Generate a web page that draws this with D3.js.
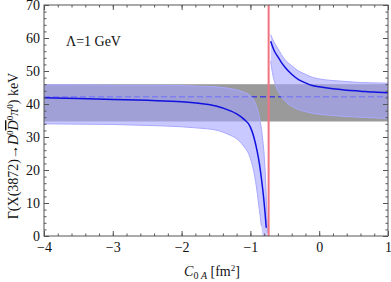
<!DOCTYPE html>
<html>
<head>
<meta charset="utf-8">
<script src="https://d3js.org/d3.v7.min.js"></script>
<style>
  body { margin: 0; background: #fff; }
  svg text { font-family: "Liberation Serif", "DejaVu Serif", serif; fill: #111; }
  .axis path { stroke: none; }
  .axis line { stroke: #555; }
</style>
</head>
<body>
<svg width="391" height="282"></svg>
<script>

// left branch (below the pole)
var leftC      = [-4, -3.5, -3, -2.5, -2, -1.75, -1.5, -1.3, -1.2, -1.1, -1.0, -0.95, -0.9, -0.87, -0.84, -0.82, -0.8, -0.785, -0.77, -0.76, -0.752];
var leftMid    = [41.9, 41.7, 41.4, 41.1, 40.7, 40.2, 39.4, 38.0, 37.0, 35.5, 33.0, 30.0, 25.5, 22.0, 17.5, 14.0, 10.0, 6.5, 2.5, null, null];
var leftUpper  = [45.8, 45.8, 45.7, 45.7, 45.6, 45.4, 45.2, 44.7, 44.3, 43.6, 42.5, 41.2, 38.5, 36.0, 32.5, 29.0, 24.5, 19.5, 12.0, 6.0, 1.0];
var leftLower  = [34.0, 33.9, 33.8, 33.5, 33.1, 32.7, 32.1, 30.6, 29.5, 27.3, 23.5, 19.5, 13.0, 8.0, 3.0, 0, 0, 0, 0, 0, 0];

// right branch (above the pole)
var rightC     = [-0.705, -0.68, -0.65, -0.6, -0.55, -0.5, -0.4, -0.3, -0.2, -0.1, 0, 0.2, 0.4, 0.6, 0.8, 1.0];
var rightMid   = [59.0, 57.5, 56.0, 54.3, 52.6, 51.2, 49.0, 47.4, 46.4, 45.6, 45.2, 44.6, 44.2, 43.9, 43.6, 43.4];
var rightUpper = [61.0, 59.8, 58.5, 56.8, 55.0, 53.5, 51.6, 50.0, 49.0, 48.1, 47.6, 47.1, 46.8, 46.5, 46.4, 46.3];
var rightLower = [53.0, 49.5, 46.8, 44.0, 42.3, 41.0, 39.3, 38.3, 37.7, 37.2, 36.9, 36.5, 36.2, 36.0, 35.8, 35.6];

var expBand = [34.7, 46.0];   // experimental width range
var expValue = 42.2;
var poleC = -0.735;

var xTicks = [-4, -3, -2, -1, 0, 1];
var yTicks = [0, 10, 20, 30, 40, 50, 60, 70];

var mLeft = 44, mRight = 388, mTop = 5, mBottom = 236;

var x = d3.scaleLinear().domain([-4, 1]).range([mLeft, mRight]);
var y = d3.scaleLinear().domain([0, 70]).range([mBottom, mTop]);

var svg = d3.select("svg");

svg.append("defs").append("clipPath").attr("id", "clip")
  .append("rect").attr("x", mLeft).attr("y", mTop)
  .attr("width", mRight - mLeft).attr("height", mBottom - mTop);

var plot = svg.append("g").attr("clip-path", "url(#clip)");

// experimental band
plot.append("rect")
    .attr("x", mLeft).attr("width", mRight - mLeft)
    .attr("y", y(expBand[1])).attr("height", y(expBand[0]) - y(expBand[1]))
    .style("fill", "#9a9a9a");

plot.append("line")
    .attr("x1", mLeft).attr("x2", mRight)
    .attr("y1", y(expValue)).attr("y2", y(expValue))
    .style("stroke", "#4545dd").style("stroke-width", 1.3)
    .style("stroke-dasharray", "6,3");

function rows(cs, mid, lo, hi) {
  return cs.map(function(c, i) { return {c: c, m: mid[i], lo: lo[i], hi: hi[i]}; });
}
var branches = [rows(leftC, leftMid, leftLower, leftUpper), rows(rightC, rightMid, rightLower, rightUpper)];

var area = d3.area()
    .x(function(d) { return x(d.c); })
    .y0(function(d) { return y(d.lo); })
    .y1(function(d) { return y(d.hi); })
    .curve(d3.curveMonotoneX);

var edgeHi = d3.line().x(function(d) { return x(d.c); }).y(function(d) { return y(d.hi); }).curve(d3.curveMonotoneX);
var edgeLo = d3.line().x(function(d) { return x(d.c); }).y(function(d) { return y(d.lo); }).curve(d3.curveMonotoneX);
var mid = d3.line()
    .defined(function(d) { return d.m != null; })
    .x(function(d) { return x(d.c); }).y(function(d) { return y(d.m); })
    .curve(d3.curveMonotoneX);

branches.forEach(function(b) {
  plot.append("path").attr("d", area(b))
      .style("fill", "rgb(165,165,255)").style("fill-opacity", 0.6);
  plot.append("path").attr("d", edgeHi(b))
      .style("fill", "none").style("stroke", "#a8a8ff").style("stroke-width", 1);
  plot.append("path").attr("d", edgeLo(b.filter(function(d) { return d.lo > 0; })))
      .style("fill", "none").style("stroke", "#a8a8ff").style("stroke-width", 1);
  plot.append("path").attr("d", mid(b))
      .style("fill", "none").style("stroke", "#1010e0").style("stroke-width", 1.5);
});

// pole position
plot.append("line")
    .attr("x1", x(poleC)).attr("x2", x(poleC))
    .attr("y1", mTop).attr("y2", mBottom)
    .style("stroke", "#f27480").style("stroke-width", 2);

// frame
svg.append("rect")
    .attr("x", mLeft).attr("y", mTop)
    .attr("width", mRight - mLeft).attr("height", mBottom - mTop)
    .style("fill", "none").style("stroke", "#555").style("stroke-width", 1);

var xMinor = d3.range(-4, 1.001, 0.2).map(function(v) { return Math.round(v * 10) / 10; });
var yMinor = d3.range(0, 70.1, 2);
var fmt = function(d) { return d < 0 ? "\u2212" + (-d) : d; };

function ax(g) { return g.attr("class", "axis"); }

svg.append("g").call(ax).attr("transform", "translate(0," + mBottom + ")")
    .call(d3.axisBottom(x).tickValues(xTicks).tickSize(-5).tickPadding(6).tickFormat(fmt));
svg.append("g").call(ax).attr("transform", "translate(0," + mBottom + ")")
    .call(d3.axisBottom(x).tickValues(xMinor).tickSize(-2.5).tickFormat(""));
svg.append("g").call(ax).attr("transform", "translate(0," + mTop + ")")
    .call(d3.axisTop(x).tickValues(xTicks).tickSize(-5).tickFormat(""));
svg.append("g").call(ax).attr("transform", "translate(0," + mTop + ")")
    .call(d3.axisTop(x).tickValues(xMinor).tickSize(-2.5).tickFormat(""));

svg.append("g").call(ax).attr("transform", "translate(" + mLeft + ",0)")
    .call(d3.axisLeft(y).tickValues(yTicks).tickSize(-5).tickPadding(4));
svg.append("g").call(ax).attr("transform", "translate(" + mLeft + ",0)")
    .call(d3.axisLeft(y).tickValues(yMinor).tickSize(-2.5).tickFormat(""));
svg.append("g").call(ax).attr("transform", "translate(" + mRight + ",0)")
    .call(d3.axisRight(y).tickValues(yTicks).tickSize(-5).tickFormat(""));
svg.append("g").call(ax).attr("transform", "translate(" + mRight + ",0)")
    .call(d3.axisRight(y).tickValues(yMinor).tickSize(-2.5).tickFormat(""));

svg.selectAll(".axis").attr("font-family", null).attr("font-size", null);
svg.selectAll(".axis text")
    .attr("font-family", "Liberation Serif")
    .style("fill", "#111").style("font-family", "'Liberation Serif', serif").style("font-size", "14px");

// labels
svg.append("text").attr("x", 66).attr("y", 46)
    .style("font-size", "14px").text("\u039B=1 GeV");

var xl = svg.append("text").attr("x", 212).attr("y", 276)
    .style("font-size", "14px").attr("text-anchor", "middle");
xl.append("tspan").style("font-style", "italic").text("C");
xl.append("tspan").attr("dy", 3).style("font-size", "10px").text("0 ");
xl.append("tspan").style("font-size", "10px").style("font-style", "italic").text("A");
xl.append("tspan").attr("dy", -3).text("  [fm");
xl.append("tspan").attr("dy", -5).style("font-size", "9px").text("2");
xl.append("tspan").attr("dy", 5).text("]");

var yl = svg.append("text")
    .attr("transform", "translate(18,146) rotate(-90)")
    .style("font-size", "14px").attr("text-anchor", "middle");
yl.append("tspan").text("\u0393(X(3872)\u2192");
yl.append("tspan").style("font-style", "italic").text("D");
yl.append("tspan").attr("dy", -5).style("font-size", "9px").text("0");
yl.append("tspan").attr("dy", 5).style("font-style", "italic")
    .style("text-decoration", "overline").text("D");
yl.append("tspan").attr("dy", -5).style("font-size", "9px").text("0");
yl.append("tspan").attr("dy", 5).style("font-style", "italic").text("\u03C0");
yl.append("tspan").attr("dy", -5).style("font-size", "9px").text("0");
yl.append("tspan").attr("dy", 5).text(") keV");

</script>
</body>
</html>
